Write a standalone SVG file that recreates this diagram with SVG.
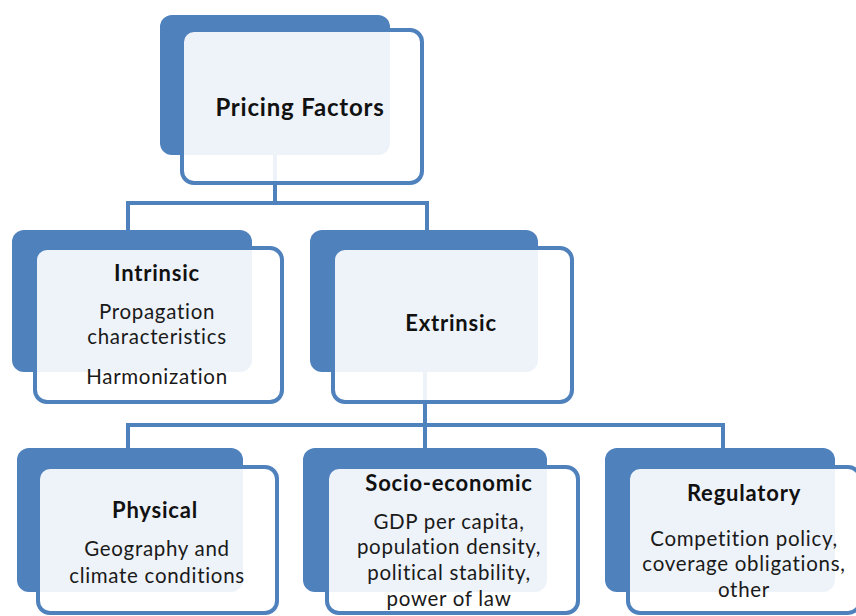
<svg xmlns="http://www.w3.org/2000/svg" width="856" height="616" viewBox="0 0 856 616">
  <style>
    .back { fill: #4f81bd; }
    .front { fill: #ffffff; fill-opacity: 0.9; stroke: #4f81bd; stroke-width: 4; }
    .conn { fill: none; stroke: #4f81bd; stroke-width: 4; }
    text { font-family: Lato, "Open Sans", "Liberation Sans", sans-serif; fill: #111111; text-anchor: middle; }
    .title { font-weight: bold; font-size: 22px; letter-spacing: 0.8px; }
    .big { font-weight: bold; font-size: 24px; letter-spacing: 0.8px; }
    .body { font-size: 20.5px; letter-spacing: 0.7px; fill: #1a1a1a; }
  </style>
  <rect width="856" height="616" fill="#ffffff"/>

  <!-- tree connectors, drawn under the cards -->
  <g id="connectors">
    <path class="conn" d="M275 150 V203 M128 203 H427 M128 201 V232 M427 201 V232"/>
    <path class="conn" d="M425 370 V425 M128 425 H723 M128 423 V450 M425 423 V450 M723 423 V450"/>
  </g>

  <g id="pricing-factors">
    <rect class="back" x="160" y="15" width="230" height="140" rx="12"/>
    <rect class="front" x="182" y="30" width="240" height="153" rx="12"/>
    <text class="big" x="300" y="116">Pricing Factors</text>
  </g>

  <g id="intrinsic">
    <rect class="back" x="12" y="230" width="240" height="142" rx="12"/>
    <rect class="front" x="35" y="248" width="247" height="154" rx="12"/>
    <text class="title" x="157" y="281">Intrinsic</text>
    <text class="body" x="157" y="319">Propagation</text>
    <text class="body" x="157" y="344">characteristics</text>
    <text class="body" x="157" y="384">Harmonization</text>
  </g>

  <g id="extrinsic">
    <rect class="back" x="310" y="230" width="228" height="142" rx="12"/>
    <rect class="front" x="333" y="248" width="239" height="154" rx="12"/>
    <text class="title" x="451" y="331">Extrinsic</text>
  </g>

  <g id="physical">
    <rect class="back" x="17" y="448" width="226" height="144" rx="12"/>
    <rect class="front" x="38" y="467" width="239" height="146" rx="12"/>
    <text class="title" x="155" y="518">Physical</text>
    <text class="body" x="157" y="556">Geography and</text>
    <text class="body" x="157" y="583">climate conditions</text>
  </g>

  <g id="socio-economic">
    <rect class="back" x="303" y="448" width="244" height="144" rx="12"/>
    <rect class="front" x="327" y="467" width="251" height="146" rx="12"/>
    <text class="title" x="449" y="491">Socio-economic</text>
    <text class="body" x="449" y="529">GDP per capita,</text>
    <text class="body" x="449" y="554">population density,</text>
    <text class="body" x="449" y="580">political stability,</text>
    <text class="body" x="449" y="606">power of law</text>
  </g>

  <g id="regulatory">
    <rect class="back" x="605" y="448" width="230" height="144" rx="12"/>
    <rect class="front" x="628" y="467" width="232" height="146" rx="12"/>
    <text class="title" x="744" y="501">Regulatory</text>
    <text class="body" x="744" y="546">Competition policy,</text>
    <text class="body" x="744" y="571">coverage obligations,</text>
    <text class="body" x="744" y="597">other</text>
  </g>
</svg>
